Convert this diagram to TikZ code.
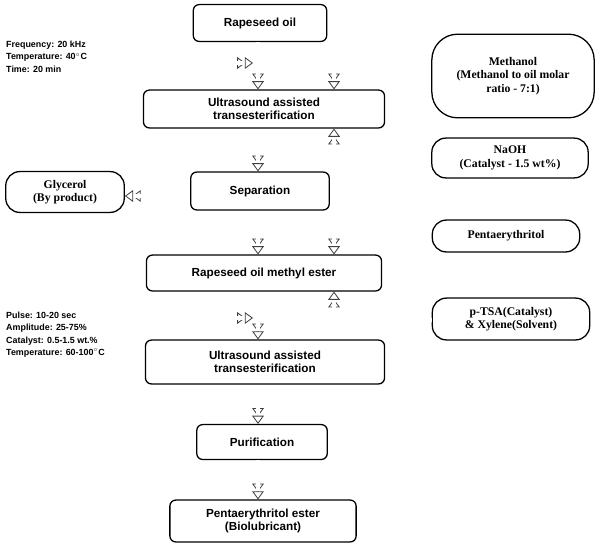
\documentclass[tikz,border=0pt]{standalone}
\usepackage{fontspec}
\setmainfont{Liberation Serif}
\setsansfont{Liberation Sans}
\usetikzlibrary{arrows.meta}
\begin{document}
\begin{tikzpicture}[x=0.03cm,y=-0.03cm,
  box/.style={draw,line width=1.1pt,rounded corners=5pt,align=center,font=\sffamily\bfseries\fontsize{10}{11.5}\selectfont,inner sep=2pt},
  rbox/.style={draw,line width=1.1pt,rounded corners=12pt,align=center,font=\rmfamily\bfseries\fontsize{10}{11.5}\selectfont,inner sep=2pt},
  info/.style={align=left,anchor=north west,font=\sffamily\bfseries\fontsize{7.6}{10.4}\selectfont,inner sep=0pt},
  harr/.style={draw=white,line width=2.8pt,
    preaction={draw=black!75,line width=4.2pt,shorten >=6.5pt},
    -{Triangle[open,length=7pt,width=10pt,line width=0.7pt,color=black!75]}}]
\useasboundingbox (0,0) rectangle (600,549);
\node[box,minimum width=134*0.85pt,minimum height=37*0.85pt] (a) at (260,23) {Rapeseed oil};
\node[box,minimum width=242*0.85pt,minimum height=38*0.85pt] (b) at (264,109) {Ultrasound assisted\\transesterification};
\node[box,minimum width=139*0.85pt,minimum height=38*0.85pt] (c) at (260,191) {Separation};
\node[box,minimum width=236*0.85pt,minimum height=36*0.85pt] (d) at (264,273) {Rapeseed oil methyl ester};
\node[box,minimum width=240*0.85pt,minimum height=44*0.85pt] (e) at (265,362) {Ultrasound assisted\\transesterification};
\node[box,minimum width=131*0.85pt,minimum height=35*0.85pt] (f) at (262,442) {Purification};
\node[box,minimum width=187*0.85pt,minimum height=42*0.85pt] (g) at (263,521) {Pentaerythritol ester\\(Biolubricant)};
\node[rbox,minimum width=163*0.85pt,minimum height=84*0.85pt,rounded corners=22pt] (m) at (513,76) {Methanol\\(Methanol to oil molar\\ratio - 7:1)};
\node[rbox,minimum width=157*0.85pt,minimum height=40*0.85pt] (n) at (510,158) {NaOH\\(Catalyst - 1.5 wt\%)};
\node[rbox,minimum width=148*0.85pt,minimum height=32*0.85pt] (p) at (506,236) {Pentaerythritol};
\node[rbox,minimum width=158*0.85pt,minimum height=42*0.85pt] (t) at (511,319) {p-TSA(Catalyst)\\\& Xylene(Solvent)};
\node[rbox,minimum width=119*0.85pt,minimum height=41*0.85pt] (gl) at (65,192) {Glycerol\\(By product)};
\node[info] (i1) at (6,41) {Frequency: 20 kHz\\Temperature: 40$^\circ$C\\Time: 20 min};
\node[info] (i2) at (6,312) {Pulse: 10-20 sec\\Amplitude: 25-75\%\\Catalyst: 0.5-1.5 wt.\%\\Temperature: 60-100$^\circ$C};
\foreach \u/\v in {a/b,b/c,c/d,d/e,e/f,f/g}
  \draw[harr] (\u.south -| 258,0) -- (\v.north -| 258,0);
\coordinate (l1) at (140,63); \coordinate (l1e) at (253,63);
\draw[harr] (l1) -- (l1e);
\coordinate (l2) at (140,318); \coordinate (l2e) at (253,318);
\draw[harr] (l2) -- (l2e);
\draw[harr] (c.west |- 0,196) -- (gl.east |- 0,196);
\draw[harr] (m.west |- 0,63) -| (b.north -| 334,0);
\draw[harr] (n.west |- 0,157) -| (b.south -| 334,0);
\draw[harr] (p.west |- 0,230) -| (d.north -| 334,0);
\draw[harr] (t.west |- 0,320) -| (d.south -| 334,0);
\end{tikzpicture}
\end{document}
